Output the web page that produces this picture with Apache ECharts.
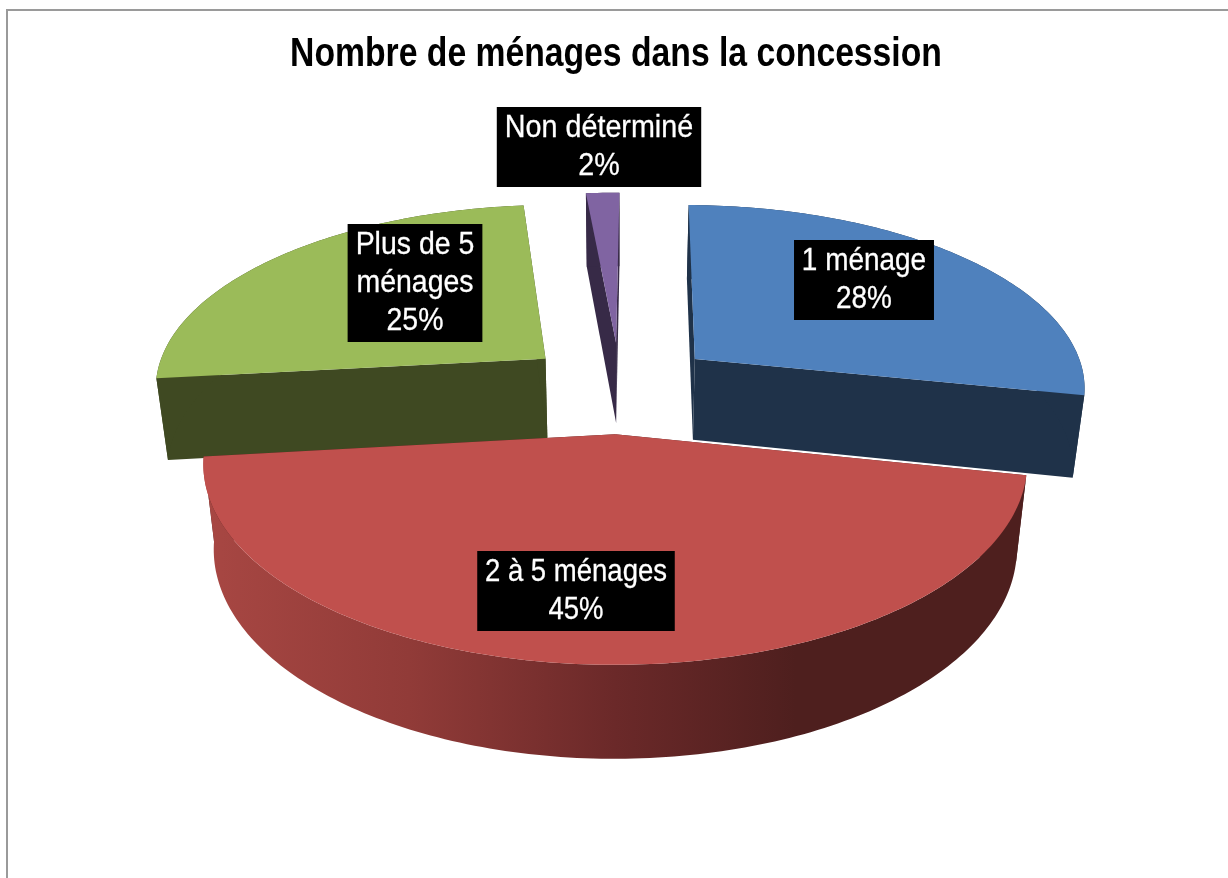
<!DOCTYPE html>
<html>
<head>
<meta charset="utf-8">
<title>Nombre de ménages dans la concession</title>
<style>
  html, body { margin: 0; padding: 0; background: #fff; }
  #chart { width: 1228px; height: 878px; }
</style>
</head>
<body>
<div id="chart"></div>
<script src="https://cdn.jsdelivr.net/npm/echarts@6/dist/echarts.min.js"></script>
<script>
const chartTitle = 'Nombre de ménages dans la concession';
const categories = ['1 ménage', '2 à 5 ménages', 'Plus de 5\nménages', 'Non déterminé'];
const shares = [28.1, 45.0, 25.3, 1.6];

// styling, in the same order as the categories
const topColors = ['#4F81BD', '#C0504D', '#9BBB59', '#8064A2'];
const sideColors = ['#1F3249', '#4E1F1E', '#3F4922', '#372A47'];
const paintOrder = [2, 3, 0, 1];
const labelCenters = [[864, 280], [576, 591], [415, 283], [599, 147]];
const labelSqueeze = [0.873, 0.86, 0.89, 0.897];

// fake 3d: circle on the floor, seen with some perspective
const view = { cx: 620, cy: 387, rx: 393, ry: 183, persp: 0.1415, depth: 82, explode: 0.25, startAngle: 0.5 };

function project(u, v, lower) {
  const s = 1 / (1 + view.persp * v);
  let x = view.rx * u * s;
  let y = -view.ry * v * s;
  if (lower) {
    x *= 0.975;
    y += view.depth * (0.32 + 0.68 * s);
  }
  return [view.cx + x, view.cy + y];
}

function rad(deg) {
  return deg * Math.PI / 180;
}

function renderSlice(params, api) {
  const i = params.dataIndex;
  const total = shares.reduce((a, b) => a + b, 0);
  const before = shares.slice(0, i).reduce((a, b) => a + b, 0);
  const a1 = view.startAngle + before / total * 360;
  const a2 = a1 + api.value(0) / total * 360;
  const mid = rad((a1 + a2) / 2);
  const ou = view.explode * Math.sin(mid);
  const ov = view.explode * Math.cos(mid);

  const rimPt = (deg, lower) => project(ou + Math.sin(rad(deg)), ov + Math.cos(rad(deg)), lower);
  const apex = project(ou, ov, false);
  const apexLow = project(ou, ov, true);

  const arcTop = [];
  const arcLow = [];
  const steps = Math.max(4, Math.ceil(a2 - a1));
  for (let k = 0; k <= steps; k++) {
    const a = a1 + (a2 - a1) * k / steps;
    arcTop.push(rimPt(a, false));
    arcLow.push(rimPt(a, true));
  }

  const rank = paintOrder[i] * 10;
  const side = sideColors[i];
  // the big front slice has a shaded wall, others are flat
  const rimFill = i === 1
    ? new echarts.graphic.LinearGradient(0, 0, 1, 0, [
        { offset: 0, color: '#A84743' },
        { offset: 0.25, color: '#913B38' },
        { offset: 0.5, color: '#6B2929' },
        { offset: 0.72, color: '#4E1F1E' },
        { offset: 1, color: '#4E1F1E' }
      ])
    : side;

  const poly = (points, fill, z2) => ({
    type: 'polygon',
    shape: { points: points },
    style: { fill: fill },
    z2: z2
  });

  return {
    type: 'group',
    children: [
      poly([apex, arcTop[0], arcLow[0], apexLow], side, rank),
      poly([apex, arcTop[steps], arcLow[steps], apexLow], side, rank + 1),
      poly(arcTop.concat(arcLow.slice().reverse()), rimFill, rank + 2),
      poly([apex].concat(arcTop), topColors[i], rank + 3),
      {
        type: 'text',
        z2: 100,
        x: labelCenters[i][0],
        y: labelCenters[i][1],
        scaleX: labelSqueeze[i],
        style: {
          text: categories[i] + '\n' + Math.round(api.value(0)) + '%',
          fill: '#fff',
          stroke: '#fff',
          lineWidth: 0.3,
          font: '32px "Liberation Sans", Arial, sans-serif',
          lineHeight: 38,
          align: 'center',
          verticalAlign: 'middle',
          backgroundColor: '#000',
          padding: [2, 9]
        }
      }
    ]
  };
}

const chart = echarts.init(document.getElementById('chart'));
chart.setOption({
  animation: false,
  backgroundColor: '#fff',
  graphic: [{
    type: 'rect',
    shape: { x: 7, y: 10, width: 1300, height: 950 },
    style: { fill: 'none', stroke: '#9a9a9a', lineWidth: 2 },
    silent: true
  }, {
    type: 'text',
    x: 616,
    y: 55,
    scaleX: 0.822,
    silent: true,
    style: {
      text: chartTitle,
      fill: '#000',
      font: 'bold 41px "Liberation Sans", Arial, sans-serif',
      textAlign: 'center',
      textVerticalAlign: 'middle'
    }
  }],
  series: [{
    type: 'custom',
    coordinateSystem: 'none',
    renderItem: renderSlice,
    data: shares.map((v, i) => ({ name: categories[i], value: [v] }))
  }]
});
</script>
</body>
</html>
